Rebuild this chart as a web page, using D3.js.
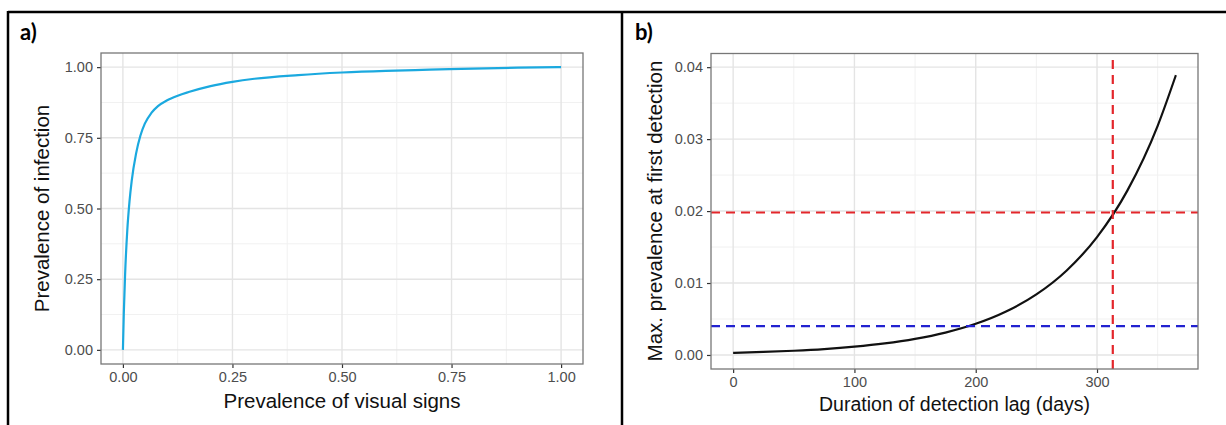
<!DOCTYPE html>
<html>
<head>
<meta charset="utf-8">
<script src="https://cdn.jsdelivr.net/npm/d3@7"></script>
<style>
  body { margin: 0; background: #fff; }
</style>
</head>
<body>
<div id="container"></div>
<script>
var WIDTH = 1226, HEIGHT = 425;
var FONT = '"Liberation Sans", Arial, Helvetica, sans-serif';

// panel a) data
var signsPrev = [0, 0.002, 0.005, 0.01, 0.015, 0.02, 0.03, 0.04, 0.05, 0.065, 0.08, 0.1, 0.125, 0.15, 0.2, 0.25, 0.3, 0.4, 0.5, 0.6, 0.7, 0.8, 0.9, 1.0];
var infectionPrev = [0, 0.127, 0.267, 0.423, 0.524, 0.597, 0.694, 0.758, 0.800, 0.838, 0.862, 0.882, 0.899, 0.912, 0.933, 0.948, 0.959, 0.972, 0.981, 0.987, 0.991, 0.995, 0.998, 1.0];
var xTicksA = [0, 0.25, 0.5, 0.75, 1];
var yTicksA = [0, 0.25, 0.5, 0.75, 1];

// panel b) data
var lagDays = [0, 25, 50, 75, 100, 125, 150, 175, 200, 225, 250, 275, 300, 325, 350, 365];
var maxPrev = [0.00030, 0.00042, 0.00059, 0.00082, 0.00115, 0.00160, 0.00223, 0.00311, 0.00433, 0.00604, 0.00842, 0.01175, 0.01638, 0.02284, 0.03185, 0.03888];
var xTicksB = [0, 100, 200, 300];
var yTicksB = [0, 0.01, 0.02, 0.03, 0.04];
var redLag = 313, redPrev = 0.0198, bluePrev = 0.004;

var translate = function (x, y) {
	return "translate(" + x + "," + y + ")";
};

var svg = d3.select('#container').append('svg')
	.attr('width', WIDTH)
	.attr('height', HEIGHT);

// table borders
svg.append('line').attr('x1', 8).attr('x2', WIDTH).attr('y1', 12).attr('y2', 12)
	.attr('stroke', '#000').attr('stroke-width', 2.5);
svg.append('line').attr('x1', 8).attr('x2', 8).attr('y1', 11).attr('y2', HEIGHT)
	.attr('stroke', '#000').attr('stroke-width', 2.5);
svg.append('line').attr('x1', 622).attr('x2', 622).attr('y1', 11).attr('y2', HEIGHT)
	.attr('stroke', '#000').attr('stroke-width', 2.5);

function panelLabel(txt, x) {
	svg.append('text').attr('x', x).attr('y', 40).text(txt)
		.style('font-family', 'Lato, "Open Sans", sans-serif')
		.style('font-weight', 'bold').style('font-size', '22px');
}
panelLabel('a)', 20);
panelLabel('b)', 635);

function drawPanel(xScale, yScale, xTicks, yTicks, xMinor, yMinor, xFmt, yFmt) {
	var x0 = xScale.range()[0], x1 = xScale.range()[1];
	var y0 = yScale.range()[0], y1 = yScale.range()[1];
	var g = svg.append('g');
	// minor grid
	g.selectAll('.vminor').data(xMinor).enter().append('line')
		.attr('x1', xScale).attr('x2', xScale).attr('y1', y0).attr('y2', y1)
		.attr('stroke', '#f1f1f1').attr('stroke-width', 1);
	g.selectAll('.hminor').data(yMinor).enter().append('line')
		.attr('y1', yScale).attr('y2', yScale).attr('x1', x0).attr('x2', x1)
		.attr('stroke', '#f1f1f1').attr('stroke-width', 1);
	// major grid
	g.selectAll('.vmajor').data(xTicks).enter().append('line')
		.attr('x1', xScale).attr('x2', xScale).attr('y1', y0).attr('y2', y1)
		.attr('stroke', '#e4e4e4').attr('stroke-width', 1.4);
	g.selectAll('.hmajor').data(yTicks).enter().append('line')
		.attr('y1', yScale).attr('y2', yScale).attr('x1', x0).attr('x2', x1)
		.attr('stroke', '#e4e4e4').attr('stroke-width', 1.4);

	var xAxis = d3.axisBottom(xScale).tickValues(xTicks).tickFormat(xFmt).tickSizeOuter(0).tickSize(4).tickPadding(4);
	var gx = svg.append('g').attr('transform', translate(0, y0)).call(xAxis);
	var yAxis = d3.axisLeft(yScale).tickValues(yTicks).tickFormat(yFmt).tickSizeOuter(0).tickSize(4).tickPadding(4);
	var gy = svg.append('g').attr('transform', translate(x0, 0)).call(yAxis);
	[gx, gy].forEach(function (a) {
		a.select('.domain').remove();
		a.selectAll('.tick line').attr('stroke', '#333').attr('stroke-width', 1.2);
		a.selectAll('.tick text').attr('fill', '#4d4d4d')
			.style('font-family', FONT).style('font-size', '14.5px');
	});
	return g;
}

function frame(xScale, yScale) {
	var x0 = xScale.range()[0], x1 = xScale.range()[1];
	var y0 = yScale.range()[0], y1 = yScale.range()[1];
	svg.append('rect').attr('x', x0).attr('y', y1).attr('width', x1 - x0).attr('height', y0 - y1)
		.attr('fill', 'none').attr('stroke', '#777').attr('stroke-width', 1.3);
}

function title(x, y, rot, txt, size) {
	svg.append('text')
		.attr('transform', translate(x, y) + (rot ? ' rotate(-90)' : ''))
		.attr('text-anchor', 'middle')
		.style('font-family', FONT).style('font-size', size + 'px').attr('fill', '#111')
		.text(txt);
}

// ---- panel a
var xA = d3.scaleLinear().domain([-0.05, 1.05]).range([101, 583]);
var yA = d3.scaleLinear().domain([-0.05, 1.05]).range([364, 53]);
drawPanel(xA, yA, xTicksA, yTicksA, [0.125, 0.375, 0.625, 0.875], [0.125, 0.375, 0.625, 0.875], d3.format('.2f'), d3.format('.2f'));

var lineA = d3.line()
	.x(function (d, i) { return xA(signsPrev[i]); })
	.y(function (d, i) { return yA(infectionPrev[i]); })
	.curve(d3.curveMonotoneX);
svg.append('path').attr('d', lineA(signsPrev))
	.attr('fill', 'none').attr('stroke', '#1ba9df').attr('stroke-width', 2.2);
frame(xA, yA);

title((101 + 583) / 2, 408, false, 'Prevalence of visual signs', 20.5);
title(49, 208.5, true, 'Prevalence of infection', 20.5);

// ---- panel b
var xB = d3.scaleLinear().domain([-18.25, 383.25]).range([711, 1198]);
var yB = d3.scaleLinear().domain([-0.00195, 0.0419]).range([369, 53.5]);
drawPanel(xB, yB, xTicksB, yTicksB, [50, 150, 250, 350], [0.005, 0.015, 0.025, 0.035], d3.format('d'), d3.format('.2f'));

var lineB = d3.line()
	.x(function (d, i) { return xB(lagDays[i]); })
	.y(function (d, i) { return yB(maxPrev[i]); })
	.curve(d3.curveMonotoneX);
svg.append('path').attr('d', lineB(lagDays))
	.attr('fill', 'none').attr('stroke', '#111').attr('stroke-width', 2.2);

svg.append('line').attr('x1', xB.range()[0]).attr('x2', xB.range()[1])
	.attr('y1', yB(redPrev)).attr('y2', yB(redPrev))
	.attr('stroke', '#e3262b').attr('stroke-width', 2.2).attr('stroke-dasharray', '9,6');
svg.append('line').attr('x1', xB.range()[0]).attr('x2', xB.range()[1])
	.attr('y1', yB(bluePrev)).attr('y2', yB(bluePrev))
	.attr('stroke', '#2222d0').attr('stroke-width', 2.2).attr('stroke-dasharray', '9,6');
svg.append('line').attr('x1', xB(redLag)).attr('x2', xB(redLag))
	.attr('y1', yB.range()[0]).attr('y2', yB.range()[1])
	.attr('stroke', '#e3262b').attr('stroke-width', 2.2).attr('stroke-dasharray', '9,6');
frame(xB, yB);

title((711 + 1198) / 2, 411, false, 'Duration of detection lag (days)', 19.5);
title(662, 211, true, 'Max. prevalence at first detection', 20.5);
</script>
</body>
</html>
